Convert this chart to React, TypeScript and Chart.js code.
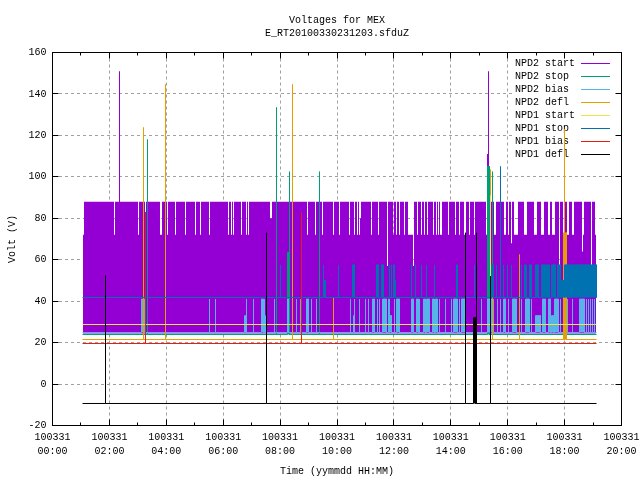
import React, { useEffect, useRef } from "react";
import { Chart, registerables } from "chart.js";

Chart.register(...registerables);

type Mark = [number, number, number];

const FONT = "'Liberation Mono', monospace";
const titleLines = ["Voltages for MEX", "E_RT20100330231203.sfduZ"];
const seriesNames = ["NPD2 start", "NPD2 stop", "NPD2 bias", "NPD2 defl", "NPD1 start", "NPD1 stop", "NPD1 bias", "NPD1 defl"];
const seriesColors = ["#9400d3", "#009e73", "#56b4e9", "#e69f00", "#f0e442", "#0072b2", "#e51e10", "#000000"];
const xTickHours = ["00:00", "02:00", "04:00", "06:00", "08:00", "10:00", "12:00", "14:00", "16:00", "18:00", "20:00"];
const datePrefix = "100331";

const firstHour = 1.04;
const lastHour = 19.12;
// Sampling step of the time values, in hours.
const timeStep = 1 / 28.45;

// NPD2 start: band between its low level and its high level, with short drops
const npd2StartLow = 24.4;
const npd2StartHigh = 88;
const npd2StartDip = 72;
const npd2StartBegin = [1.08, 1.11];
const npd2StartEnd = [19.07, 19.11];
const npd2StartDrops = [2.18, 3.04, 4.05, 4.33, 4.68, 5.03, 5.21, 5.53, 6.2, 6.28, 6.37, 6.63, 6.83, 6.9, 8.96, 9.25, 9.5, 9.89, 10.1, 10.45, 10.61, 10.71, 10.78, 11.21, 11.45, 11.98, 12.1, 12.19, 12.37, 12.83, 12.96, 13.07, 13.18, 13.39, 13.49, 13.56, 14.3];
const npd2StartLongDrops: Mark[] = [
  [3.24, 3.29, 83], [3.79, 3.86, 72], [7.65, 7.7, 80], [10.82, 10.86, 80], [11.76, 11.8, 57],
  [12.51, 12.68, 72], [12.68, 12.72, 57], [13.63, 13.7, 72], [13.91, 13.95, 72], [14.14, 14.18, 72],
  [14.46, 14.55, 72], [14.65, 14.69, 72], [14.81, 14.86, 72], [15.25, 15.28, 72], [15.53, 15.58, 72],
  [15.88, 15.95, 72], [16.0, 16.03, 72], [16.12, 16.16, 68], [16.22, 16.36, 72], [16.57, 16.67, 72],
  [16.92, 17.02, 72], [17.17, 17.29, 72], [17.43, 17.47, 72], [17.55, 17.68, 72], [17.79, 17.83, 57],
  [17.94, 17.99, 72], [18.09, 18.14, 72], [18.26, 18.32, 72], [18.6, 18.63, 64], [18.63, 18.67, 72], [18.92, 18.95, 57],
];
const npd2StartPeaks: Mark[] = [[2.34, 2.38, 150.9], [15.27, 15.31, 111], [15.31, 15.35, 150.9]];

const npd2StopBase = 23.9;
const npd2StopPeaks: Mark[] = [[3.34, 3.34, 118], [7.87, 7.87, 133.5], [8.27, 8.32, 63.5], [8.33, 8.33, 102.5], [9.39, 9.39, 102.5], [15.29, 15.35, 105], [15.47, 15.47, 102.5]];

const npd2BiasBase = 24.88;
const npd2BiasPeaks: Mark[] = [
  [3.12, 3.22, 41], [5.52, 5.52, 41], [5.73, 5.73, 41], [6.74, 6.79, 33], [6.81, 6.81, 41], [7.07, 7.07, 41],
  [7.34, 7.41, 41], [7.45, 7.45, 41], [7.49, 7.49, 33], [7.8, 7.8, 41], [8.25, 8.29, 41], [8.57, 8.57, 41],
  [8.71, 8.71, 41], [8.92, 8.99, 41], [9.11, 9.11, 41], [9.27, 9.27, 41], [10.47, 10.47, 41], [10.57, 10.6, 33],
  [10.61, 10.61, 41], [10.79, 10.79, 41], [11.01, 11.01, 41], [11.1, 11.1, 41], [11.24, 11.31, 41], [11.42, 11.42, 41],
  [11.5, 11.5, 41], [11.59, 11.73, 41], [11.8, 11.84, 41], [11.84, 11.91, 33], [12.01, 12.01, 41], [12.08, 12.19, 41],
  [12.61, 12.68, 41], [12.79, 12.86, 41], [12.89, 12.89, 41], [13.03, 13.1, 41], [13.14, 13.25, 41], [13.35, 13.42, 41],
  [13.46, 13.53, 41], [13.6, 13.6, 41], [13.81, 13.81, 41], [14.02, 14.02, 41], [14.09, 14.23, 41], [14.3, 14.3, 41],
  [14.37, 14.51, 41], [14.9, 14.9, 41], [15.07, 15.07, 41], [15.29, 15.45, 41], [15.5, 15.5, 41], [15.65, 15.65, 41],
  [15.74, 15.74, 41], [15.85, 15.92, 41], [16.02, 16.02, 41], [16.17, 16.31, 41], [16.48, 16.48, 41], [16.62, 16.76, 41],
  [16.83, 16.83, 41], [16.97, 17.15, 33], [17.22, 17.32, 41], [17.43, 17.5, 41], [17.55, 17.62, 33], [17.65, 17.79, 41],
  [17.85, 17.85, 41], [18.1, 18.1, 41], [18.27, 18.27, 41], [18.52, 18.7, 41], [18.77, 18.77, 41], [18.84, 18.84, 41],
  [18.91, 18.91, 41], [18.98, 18.98, 41], [19.05, 19.05, 41],
];

const npd2DeflBase = 21.5;
const npd2DeflPeaks: Mark[] = [[3.2, 3.2, 123.8], [3.97, 3.97, 144.6], [8.44, 8.44, 144.6], [9.88, 9.88, 42], [15.4, 15.4, 103.5], [15.45, 15.45, 42], [16.42, 16.42, 62.5], [17.96, 18.0, 73], [18.01, 18.01, 123], [18.02, 18.06, 73]];

const npd1StartBase = 28.74;
const npd1StartPeaks: Mark[] = [[15.41, 15.41, 91]];

const npd1StopBase = 41.77;
const npd1StopPeaks: Mark[] = [
  [8.01, 8.01, 57.5], [9.53, 9.53, 57.5], [9.54, 9.59, 50], [10.06, 10.06, 57.5], [10.54, 10.61, 57.5], [11.38, 11.45, 57.5],
  [11.57, 11.64, 57.5], [11.84, 11.84, 57.5], [11.91, 11.91, 57.5], [11.98, 12.01, 57.5], [12.02, 12.05, 50], [12.61, 12.61, 57.5],
  [12.75, 12.75, 57.5], [12.96, 12.96, 57.5], [13.14, 13.14, 57.5], [13.42, 13.42, 57.5], [14.2, 14.23, 57.5], [14.82, 14.82, 57.5],
  [15.43, 15.49, 57.5], [15.6, 15.6, 57.5], [15.74, 15.74, 105], [15.85, 15.85, 57.5], [15.99, 15.99, 57.5], [16.13, 16.13, 57.5],
  [16.48, 16.48, 57.5], [16.59, 16.62, 57.5], [16.66, 16.66, 57.5], [16.76, 16.83, 57.5], [16.97, 17.08, 57.5], [17.18, 17.36, 57.5],
  [17.39, 17.46, 57.5], [17.55, 17.68, 57.5], [17.75, 17.85, 57.5], [17.89, 17.99, 50], [17.99, 18.2, 57.5], [18.2, 18.24, 50], [18.24, 19.12, 57.5],
];

const npd1BiasBase = 19.57;
const npd1BiasPeaks: Mark[] = [[3.27, 3.27, 83], [8.75, 8.75, 83]];

const npd1DeflBase = -9.38;
const npd1DeflPeaks: Mark[] = [[1.86, 1.86, 52.3], [7.52, 7.52, 73], [14.52, 14.52, 73], [14.81, 14.88, 32], [14.89, 14.89, 73], [15.4, 15.4, 52]];

const onSample = (h: number) => Math.round(h / timeStep) * timeStep;
const onEdge = (h: number) => (Math.round(h / timeStep - 0.5) + 0.5) * timeStep;

function trace(base: number, marks: Mark[]) {
  const pts = [{ x: onSample(firstHour), y: base }];
  [...marks].sort((a, b) => a[0] - b[0]).forEach(([s0, e0, top]) => {
    const s = onSample(s0);
    const e = onSample(e0);
    pts.push({ x: s, y: base }, { x: s, y: top }, { x: e, y: top }, { x: e, y: base });
  });
  pts.push({ x: onSample(lastHour), y: base });
  return pts;
}

function purpleBand() {
  const marks: Mark[] = [
    ...npd2StartDrops.map((t) => {
      const s = onEdge(t - timeStep / 2);
      return [s, s + timeStep, npd2StartDip] as Mark;
    }),
    ...npd2StartLongDrops.map(([s, e, v]) => [onEdge(s), onEdge(e), v] as Mark),
    ...npd2StartPeaks.map(([s, e, v]) => [onEdge(s), onEdge(e), v] as Mark),
  ].sort((a, b) => a[0] - b[0]);
  const b0 = onEdge(npd2StartBegin[0]);
  const b1 = onEdge(npd2StartBegin[1]);
  const e0 = onEdge(npd2StartEnd[0]);
  const e1 = onEdge(npd2StartEnd[1]);
  const pts = [
    { x: b0, y: npd2StartLow },
    { x: b0, y: npd2StartDip },
    { x: b1, y: npd2StartDip },
    { x: b1, y: npd2StartHigh },
  ];
  marks.forEach(([s, e, top]) => {
    pts.push({ x: s, y: npd2StartHigh }, { x: s, y: top }, { x: e, y: top }, { x: e, y: npd2StartHigh });
  });
  pts.push(
    { x: e0, y: npd2StartHigh },
    { x: e0, y: npd2StartDip },
    { x: e1, y: npd2StartDip },
    { x: e1, y: npd2StartLow },
  );
  return pts;
}

const keyPlugin = {
  id: "gnuplotKey",
  beforeDatasetsDraw(chart: any) {
    const { ctx, chartArea: a } = chart;
    ctx.save();
    ctx.fillStyle = "#ffffff";
    ctx.fillRect(513, a.top + 1, 103, 109);
    ctx.font = `10px ${FONT}`;
    ctx.textBaseline = "middle";
    ctx.textAlign = "left";
    seriesNames.forEach((name, i) => {
      const y = 63.5 + i * 13;
      ctx.fillStyle = "#000000";
      ctx.fillText(name, 515, y);
      ctx.strokeStyle = seriesColors[i];
      ctx.lineWidth = 1;
      ctx.beginPath();
      ctx.moveTo(581, y);
      ctx.lineTo(610, y);
      ctx.stroke();
    });
    ctx.restore();
  },
  afterDatasetsDraw(chart: any) {
    const { ctx, chartArea: a, scales } = chart;
    ctx.save();
    ctx.strokeStyle = "#000000";
    ctx.lineWidth = 1;
    ctx.strokeRect(a.left, a.top, a.right - a.left, a.bottom - a.top);
    ctx.beginPath();
    for (let h = 0; h <= 20; h += 1) {
      const x = Math.floor(scales.x.getPixelForValue(h)) + 0.5;
      const len = h % 2 === 0 ? 6 : 3;
      ctx.moveTo(x, a.bottom);
      ctx.lineTo(x, a.bottom - len);
      ctx.moveTo(x, a.top);
      ctx.lineTo(x, a.top + len);
    }
    for (let v = -20; v <= 160; v += 20) {
      const y = Math.floor(scales.y.getPixelForValue(v)) + 0.5;
      ctx.moveTo(a.left, y);
      ctx.lineTo(a.left + 6, y);
      ctx.moveTo(a.right, y);
      ctx.lineTo(a.right - 6, y);
    }
    ctx.stroke();
    ctx.restore();
  },
};

export default function App() {
  const ref = useRef<HTMLCanvasElement>(null);
  useEffect(() => {
    const traces: [number, any[], number][] = [
      [npd2StartLow, purpleBand(), 0],
      [npd2StopBase, trace(npd2StopBase, npd2StopPeaks), 1],
      [npd2BiasBase, trace(npd2BiasBase, npd2BiasPeaks), 1],
      [npd2DeflBase, trace(npd2DeflBase, npd2DeflPeaks), 1],
      [npd1StartBase, trace(npd1StartBase, npd1StartPeaks), 1],
      [npd1StopBase, trace(npd1StopBase, npd1StopPeaks), 1],
      [npd1BiasBase, trace(npd1BiasBase, npd1BiasPeaks), 1],
      [npd1DeflBase, trace(npd1DeflBase, npd1DeflPeaks), 1],
    ];
    const chart = new Chart(ref.current!, {
      type: "line",
      data: {
        datasets: traces.map(([base, data, width], i) => ({
          label: seriesNames[i],
          data,
          borderColor: seriesColors[i],
          backgroundColor: seriesColors[i],
          borderWidth: width,
          borderCapStyle: "butt",
          borderJoinStyle: "miter",
          pointRadius: 0,
          tension: 0,
          fill: { value: base },
          order: traces.length - i,
        })),
      },
      options: {
        responsive: false,
        animation: false,
        layout: { padding: { left: 0, right: 18.5, top: 0, bottom: 0 } },
        plugins: {
          legend: { display: false },
          tooltip: { enabled: false },
          title: {
            display: true,
            text: titleLines,
            color: "#000000",
            fullSize: false,
            font: { family: FONT, size: 10, weight: "normal", lineHeight: 1.25 },
            padding: { top: 14.5, bottom: 13 },
          },
        },
        scales: {
          x: {
            type: "linear",
            min: 0,
            max: 20,
            afterFit: (s: any) => { s.height = 54.5; s.paddingLeft = 0; s.paddingRight = 0; },
            afterBuildTicks: (s: any) => { s.ticks = xTickHours.map((_, i) => ({ value: i * 2 })); },
            border: { display: false, dash: [3, 3] },
            grid: { color: "#a0a0a0", drawTicks: false, tickLength: 0, lineWidth: 1 },
            ticks: {
              color: "#000000",
              font: { family: FONT, size: 10, lineHeight: 1.4 },
              padding: 5,
              maxRotation: 0,
              autoSkip: false,
              callback: (_v: any, i: number) => [datePrefix, xTickHours[i]],
            },
            title: {
              display: true,
              text: "Time (yymmdd HH:MM)",
              color: "#000000",
              font: { family: FONT, size: 10 },
              padding: { top: 4, bottom: 3 },
            },
          },
          y: {
            min: -20,
            max: 160,
            afterFit: (s: any) => { s.width = 52.5; s.paddingTop = 0; s.paddingBottom = 0; },
            border: { display: false, dash: [3, 3] },
            grid: { color: "#a0a0a0", drawTicks: false, tickLength: 0, lineWidth: 1 },
            ticks: {
              stepSize: 20,
              color: "#000000",
              font: { family: FONT, size: 10 },
              padding: 6,
            },
            title: {
              display: true,
              text: "Volt (V)",
              color: "#000000",
              font: { family: FONT, size: 10 },
              padding: { top: 6, bottom: 0 },
            },
          },
        },
      } as any,
      plugins: [keyPlugin],
    });
    return () => chart.destroy();
  }, []);
  return (
    <canvas
      ref={ref}
      width={640}
      height={480}
      style={{ position: "absolute", left: 0, top: 0, width: 640, height: 480, display: "block" }}
    />
  );
}
